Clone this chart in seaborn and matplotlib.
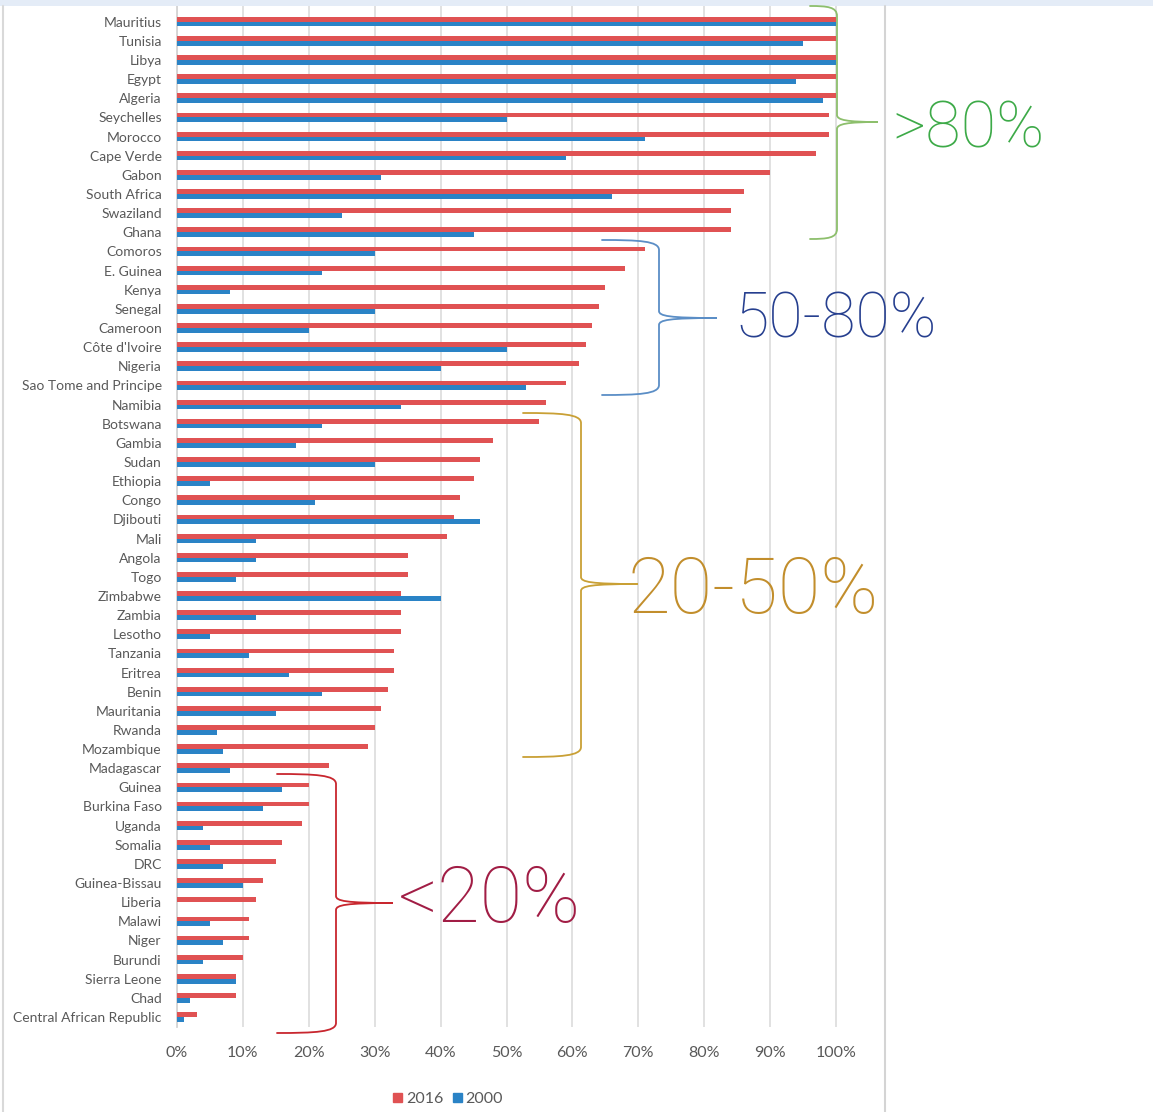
import matplotlib
matplotlib.use("Agg")
import matplotlib.pyplot as plt
import numpy as np
import pandas as pd
import seaborn as sns
from matplotlib.path import Path
from matplotlib.patches import PathPatch, Rectangle
from matplotlib.lines import Line2D
from matplotlib.transforms import Affine2D

# Share of population with access, by country (percent)
countries = [
    "Mauritius", "Tunisia", "Libya", "Egypt", "Algeria", "Seychelles", "Morocco",
    "Cape Verde", "Gabon", "South Africa", "Swaziland", "Ghana", "Comoros",
    "E. Guinea", "Kenya", "Senegal", "Cameroon", "Côte d'Ivoire", "Nigeria",
    "Sao Tome and Principe", "Namibia", "Botswana", "Gambia", "Sudan", "Ethiopia",
    "Congo", "Djibouti", "Mali", "Angola", "Togo", "Zimbabwe", "Zambia", "Lesotho",
    "Tanzania", "Eritrea", "Benin", "Mauritania", "Rwanda", "Mozambique",
    "Madagascar", "Guinea", "Burkina Faso", "Uganda", "Somalia", "DRC",
    "Guinea-Bissau", "Liberia", "Malawi", "Niger", "Burundi", "Sierra Leone",
    "Chad", "Central African Republic",
]
access_2016 = [
    100, 100, 100, 100, 100, 99, 99, 97, 90, 86, 84, 84, 71, 68, 65, 64, 63, 62,
    61, 59, 56, 55, 48, 46, 45, 43, 42, 41, 35, 35, 34, 34, 34, 33, 33, 32, 31,
    30, 29, 23, 20, 20, 19, 16, 15, 13, 12, 11, 11, 10, 9, 9, 3,
]
access_2000 = [
    100, 95, 100, 94, 98, 50, 71, 59, 31, 66, 25, 45, 30, 22, 8, 30, 20, 50,
    40, 53, 34, 22, 18, 30, 5, 21, 46, 12, 12, 9, 40, 12, 5, 11, 17, 22, 15,
    6, 7, 8, 16, 13, 4, 5, 7, 10, 0, 5, 7, 4, 9, 2, 1,
]
years = ["2016", "2000"]
year_colors = ["#E05253", "#2A83C6"]
x_ticks = [0, 10, 20, 30, 40, 50, 60, 70, 80, 90, 100]
x_tick_labels = ["0%", "10%", "20%", "30%", "40%", "50%", "60%", "70%", "80%", "90%", "100%"]
group_labels = [">80%", "50-80%", "20-50%", "<20%"]

n = len(countries)
df = pd.DataFrame({
    "country": countries * 2,
    "share": access_2016 + access_2000,
    "year": [years[0]] * n + [years[1]] * n,
})

W, H = 1158, 1112
sns.set_style("white")
plt.rcParams["font.family"] = ["Lato", "DejaVu Sans"]

fig = plt.figure(figsize=(W / 100, H / 100), dpi=100)
# pixel-style coordinates (origin top-left) for the decorations
px = Affine2D().scale(1 / W, -1 / H).translate(0, 1) + fig.transFigure

x0, x100, ytop, ybot = 177, 836, 6, 1027
xmax = 101
ax = fig.add_axes([x0 / W, 1 - ybot / H, (x100 - x0) * xmax / 100 / W, (ybot - ytop) / H])

sns.barplot(data=df, y="country", x="share", hue="year", hue_order=years,
            palette=year_colors, saturation=1, width=0.5, orient="h",
            errorbar=None, legend=False, ax=ax, zorder=3, linewidth=0)

ax.set_xlim(0, xmax)
ax.set_ylim(52.52, -0.82)
ax.set_xticks(x_ticks)
ax.set_xticklabels(x_tick_labels)
ax.set_xlabel("")
ax.set_ylabel("")
ax.grid(axis="x", color="#D9D9D9", linewidth=1.1, zorder=0)
ax.grid(axis="y", visible=False)
ax.set_axisbelow(True)
for side in ["top", "right", "bottom"]:
    ax.spines[side].set_visible(False)
ax.spines["left"].set_color("#D4D4D4")
ax.spines["left"].set_linewidth(1.3)
ax.tick_params(axis="y", length=0, pad=11, labelsize=10, labelcolor="#595959")
ax.tick_params(axis="x", length=0, pad=13.5, labelsize=11.5, labelcolor="#595959")

# legend
handles = [Rectangle((0, 0), 1, 1, color=c) for c in year_colors]
fig.legend(handles, years, loc="center", bbox_to_anchor=(448 / W, 1 - 1099 / H),
           ncol=2, frameon=False, handlelength=0.55, handleheight=0.55,
           handletextpad=0.25, columnspacing=0.6, fontsize=11.5,
           labelcolor="#595959")

# chart frame
fig.add_artist(Rectangle((0, 0), 1153, 6, color="#E4ECF7", transform=px, lw=0))
fig.add_artist(Line2D([3, 3], [6, H], color="#D9D9D9", lw=1.5, transform=px))
fig.add_artist(Line2D([885, 885], [6, H], color="#D4D4D4", lw=1.5, transform=px))


def brace(x_end, x_spine, x_tip, y_top, y_mid, y_bot, color, r=10, r2=7):
    xc = x_end + 0.65 * (x_spine - x_end)
    verts = [
        (x_end, y_top), (xc, y_top), (x_spine, y_top + 1), (x_spine, y_top + r),
        (x_spine, y_mid - r2),
        (x_spine, y_mid - 2), (x_spine + 10, y_mid), (x_tip, y_mid),
        (x_spine + 10, y_mid), (x_spine, y_mid + 2), (x_spine, y_mid + r2),
        (x_spine, y_bot - r),
        (x_spine, y_bot - 1), (xc, y_bot), (x_end, y_bot),
    ]
    codes = [Path.MOVETO, Path.CURVE4, Path.CURVE4, Path.CURVE4,
             Path.LINETO,
             Path.CURVE4, Path.CURVE4, Path.CURVE4,
             Path.CURVE4, Path.CURVE4, Path.CURVE4,
             Path.LINETO,
             Path.CURVE4, Path.CURVE4, Path.CURVE4]
    fig.add_artist(PathPatch(Path(verts, codes), fill=False, edgecolor=color,
                             lw=1.3, transform=px, capstyle="round"))


brace(810, 837, 878, 6, 122, 239, "#8DBF6C")
brace(602, 659, 717, 240, 318, 395, "#5B8EC6")
brace(523, 581, 638, 413, 584, 757, "#C9A035")
brace(277, 336, 393, 774, 903, 1033, "#C8262E")

label_specs = [
    (892, 148, 46.5, "#3DAA48"),
    (734, 338, 45, "#263F8F"),
    (628, 613, 56, "#C28E2C"),
    (398, 922, 56, "#A11D45"),
]
for text, (tx, ty, size, col) in zip(group_labels, label_specs):
    fig.text(tx, ty, text, transform=px, color=col, fontsize=size,
             family=["Roboto", "DejaVu Sans"], fontweight="light",
             ha="left", va="baseline")

fig.savefig("out.png", dpi=100)
